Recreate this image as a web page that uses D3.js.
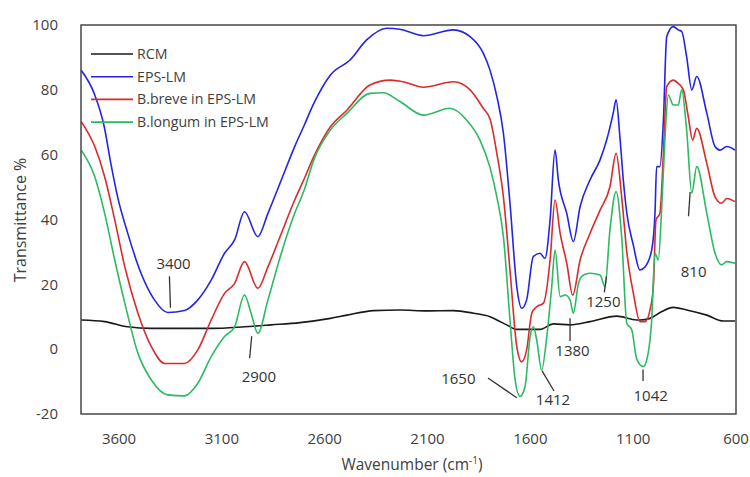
<!DOCTYPE html>
<html>
<head>
<meta charset="utf-8">
<script src="https://cdn.jsdelivr.net/npm/d3@7"></script>
<style>
  html, body { margin: 0; padding: 0; background: #fff; }
  svg { display: block; font-family: "Open Sans", "Noto Sans", sans-serif; }
</style>
</head>
<body>
<svg id="chart" width="750" height="477"></svg>
<script>
// ---- data (wavenumber cm^-1, transmittance %) ----
const seriesNames = ["RCM", "EPS-LM", "B.breve in EPS-LM", "B.longum in EPS-LM"];

const rcmData = [[3784,9],[3670,8.5],[3558,6.9],[3443,6.4],[3152,6.4],[2990,6.9],[2860,7.5],[2720,8.2],[2572,9.5],[2491,10.5],[2362,11.9],[2234,12.1],[2104,11.8],[1974,11.9],[1877,11.1],[1796,10],[1747,8.5],[1715,7.5],[1666,6.1],[1553,6.1],[1488,7.8],[1407,7.5],[1310,8.5],[1180,10.2],[1083,9],[1067,9],[1018,9.5],[961,11.6],[905,12.9],[840,12.1],[742,10.5],[662,8.7],[605,8.7]];

const epsData = [[3785,86.1],[3721,78.9],[3672,68.6],[3640,57.3],[3607,47],[3558,35.8],[3493,23.4],[3428,15.2],[3363,11.3],[3282,11.9],[3217,15.2],[3152,21.3],[3087,29.6],[3038,33.7],[2990,42.4],[2925,34.7],[2876,41.9],[2811,52.2],[2746,62.5],[2700,69],[2653,75.8],[2572,84.6],[2477,89.2],[2396,95.4],[2299,99],[2234,98.7],[2120,96.7],[1974,98.5],[1893,96.4],[1829,91.3],[1796,86],[1763,78],[1731,66.6],[1699,45],[1666,19.3],[1642,12.6],[1618,15.2],[1586,28.5],[1553,29.6],[1529,28],[1504,39.9],[1480,61.4],[1464,52.2],[1423,41.9],[1391,33.2],[1358,44],[1310,52.2],[1261,58.4],[1229,64.5],[1197,72.8],[1183,76.9],[1164,65],[1148,52.2],[1131,42],[1099,32],[1067,24.4],[1042,25.4],[1010,30.6],[994,41.9],[986,56.3],[970,56.3],[953,70.7],[937,96.4],[905,99.5],[881,98.5],[864,98],[840,90.2],[815,80],[791,84.1],[742,72.8],[702,62.5],[678,61.4],[645,62.5],[605,61.4]];

const breveData = [[3784,70.2],[3718,62.5],[3670,53.2],[3621,39.9],[3572,25.4],[3508,11.1],[3443,0.8],[3378,-4.4],[3282,-4.4],[3217,-0.2],[3152,9],[3087,17.2],[3038,20.3],[2990,27],[2925,18.8],[2876,25.4],[2811,35.7],[2746,46],[2700,52.5],[2653,59.4],[2572,68.6],[2491,73.8],[2380,81.5],[2282,83],[2218,82.5],[2120,80.8],[1974,82.5],[1893,80],[1829,74.3],[1796,71],[1763,60.4],[1731,47],[1699,24.4],[1666,0.8],[1642,-3.9],[1618,-0.2],[1593,11.1],[1569,13.1],[1536,14.2],[1504,27.5],[1480,46],[1455,35.7],[1423,26.5],[1394,16.7],[1358,27.5],[1310,35.7],[1261,42.9],[1213,50.1],[1183,60.4],[1156,47],[1131,30],[1099,17.2],[1067,8.5],[1042,8.5],[1018,12.1],[1002,19.3],[989,39.9],[970,41.9],[953,60.4],[937,81],[905,83],[881,82],[856,80],[832,71.7],[811,64.5],[791,68.1],[742,57.3],[702,47],[670,45],[645,46.5],[605,45.5]];

const longumData = [[3784,61.4],[3718,53.2],[3670,41.9],[3621,27.5],[3572,14.2],[3508,-1.3],[3443,-9.5],[3363,-14.1],[3282,-14.4],[3217,-10.5],[3152,-2.3],[3087,3.9],[3038,6.9],[2990,16.7],[2958,11.1],[2925,4.9],[2876,15.2],[2811,29.6],[2746,41.9],[2700,49],[2653,58.4],[2572,67.6],[2491,72.8],[2380,78.9],[2315,79.1],[2234,76.4],[2120,72.2],[1991,74.3],[1910,70.7],[1845,64.5],[1796,56],[1763,47],[1731,34.7],[1699,9],[1674,-9.5],[1650,-14.6],[1626,-11.6],[1601,3.9],[1585,6.9],[1569,2.8],[1545,-6.4],[1520,3.9],[1496,19.3],[1480,30.6],[1455,16.2],[1431,16.7],[1407,15.2],[1391,11.1],[1366,20.3],[1342,22.9],[1310,23.4],[1261,22.9],[1237,19.3],[1213,36.8],[1183,48.6],[1156,34.7],[1131,8],[1107,6],[1083,-3],[1051,-5.4],[1034,-3.3],[1010,9],[994,29.6],[978,27.5],[961,44],[945,65.5],[929,78.4],[905,75.3],[881,75.3],[864,80],[840,67.6],[815,48.1],[791,56.3],[742,41.9],[702,29.6],[670,26],[645,27],[605,26.5]];

const xTicks = [3600, 3100, 2600, 2100, 1600, 1100, 600];
const yTicks = [-20, 0, 20, 40, 60, 80, 100];

const peakLabels = ["3400", "2900", "1650", "1412", "1380", "1250", "1042", "810"];
</script>
<script>
const svg = d3.select("#chart");
const W = 750, H = 477;
const m = { left: 81, right: 14, top: 25, bottom: 63 };
const pw = W - m.left - m.right, ph = H - m.top - m.bottom;

const x = d3.scaleLinear().domain([3785, 600]).range([m.left, m.left + pw]);
const y = d3.scaleLinear().domain([-20, 100]).range([m.top + ph, m.top]);

const colors = ["#1a1a1a", "#2424e6", "#d92b2b", "#2cba62"];
const datasets = [rcmData, epsData, breveData, longumData];

const tickFont = 15;

// y tick labels
svg.append("g").selectAll("text").data(yTicks).join("text")
  .attr("x", 58).attr("y", d => y(d)).attr("dy", "0.35em")
  .attr("text-anchor", "end").attr("font-size", tickFont).attr("fill", "#404040")
  .text(d => d);

// x tick labels
svg.append("g").selectAll("text").data(xTicks).join("text")
  .attr("x", d => x(d)).attr("y", 439).attr("dy", "0.35em")
  .attr("text-anchor", "middle").attr("font-size", tickFont).attr("fill", "#404040")
  .text(d => d);

// axis titles
const xt = svg.append("text").attr("x", 412).attr("y", 470)
  .attr("text-anchor", "middle").attr("font-size", 15.5).attr("fill", "#404040");
xt.append("tspan").text("Wavenumber (cm");
xt.append("tspan").attr("font-size", 10).attr("dy", -6).text("-1");
xt.append("tspan").attr("dy", 6).text(")");

svg.append("text")
  .attr("transform", "translate(26,220) rotate(-90)")
  .attr("text-anchor", "middle").attr("font-size", 16).attr("fill", "#404040")
  .text("Transmittance %");

// lines
const line = d3.line().x(d => x(d[0])).y(d => y(d[1])).curve(d3.curveMonotoneX);
svg.append("clipPath").attr("id", "clip").append("rect")
  .attr("x", m.left).attr("y", m.top).attr("width", pw).attr("height", ph);
const lg = svg.append("g").attr("clip-path", "url(#clip)");
datasets.forEach((ds, i) => {
  lg.append("path").datum(ds)
    .attr("fill", "none").attr("stroke", colors[i]).attr("stroke-width", 1.6)
    .attr("stroke-linejoin", "round")
    .attr("d", line);
});

// frame
svg.append("rect").attr("x", m.left).attr("y", m.top).attr("width", pw).attr("height", ph)
  .attr("fill", "none").attr("stroke", "#3a3a3a").attr("stroke-width", 1.4);

// legend
const leg = svg.append("g");
seriesNames.forEach((n, i) => {
  const ly = 54 + i * 22.7;
  leg.append("line").attr("x1", 91).attr("x2", 133).attr("y1", ly).attr("y2", ly)
    .attr("stroke", colors[i]).attr("stroke-width", 1.6);
  leg.append("text").attr("x", 137).attr("y", ly).attr("dy", "0.35em")
    .attr("font-size", 14.2).attr("fill", "#404040").text(n);
});

// peak annotations (positions in data units)
const ann = [
  { t: peakLabels[0], tx: 3335, ty: 26.5, l: [[3355, 22.5], [3350, 12.8]] },
  { t: peakLabels[1], tx: 2920, ty: -8.5, l: [[2955, 4], [2965, -2.8]] },
  { t: peakLabels[2], tx: 1950, ty: -9.2, l: [[1806, -8.9], [1666, -15]] },
  { t: peakLabels[3], tx: 1490, ty: -15.6, l: [[1543, -6.7], [1485, -12.9]] },
  { t: peakLabels[4], tx: 1395, ty: -0.5, l: [[1407, 9.5], [1407, 2.5]] },
  { t: peakLabels[5], tx: 1245, ty: 14.5, l: [[1230, 22.5], [1240, 17.5]] },
  { t: peakLabels[6], tx: 1015, ty: -14.4, l: [[1052, -6.3], [1052, -9.8]] },
  { t: peakLabels[7], tx: 806, ty: 24, l: [[823, 48.5], [831, 41]] }
];
const ag = svg.append("g");
ann.forEach(a => {
  ag.append("line")
    .attr("x1", x(a.l[0][0])).attr("y1", y(a.l[0][1]))
    .attr("x2", x(a.l[1][0])).attr("y2", y(a.l[1][1]))
    .attr("stroke", "#333").attr("stroke-width", 1.3);
  ag.append("text").attr("x", x(a.tx)).attr("y", y(a.ty)).attr("dy", "0.35em")
    .attr("text-anchor", "middle").attr("font-size", tickFont).attr("fill", "#333")
    .text(a.t);
});
</script>
</body>
</html>
